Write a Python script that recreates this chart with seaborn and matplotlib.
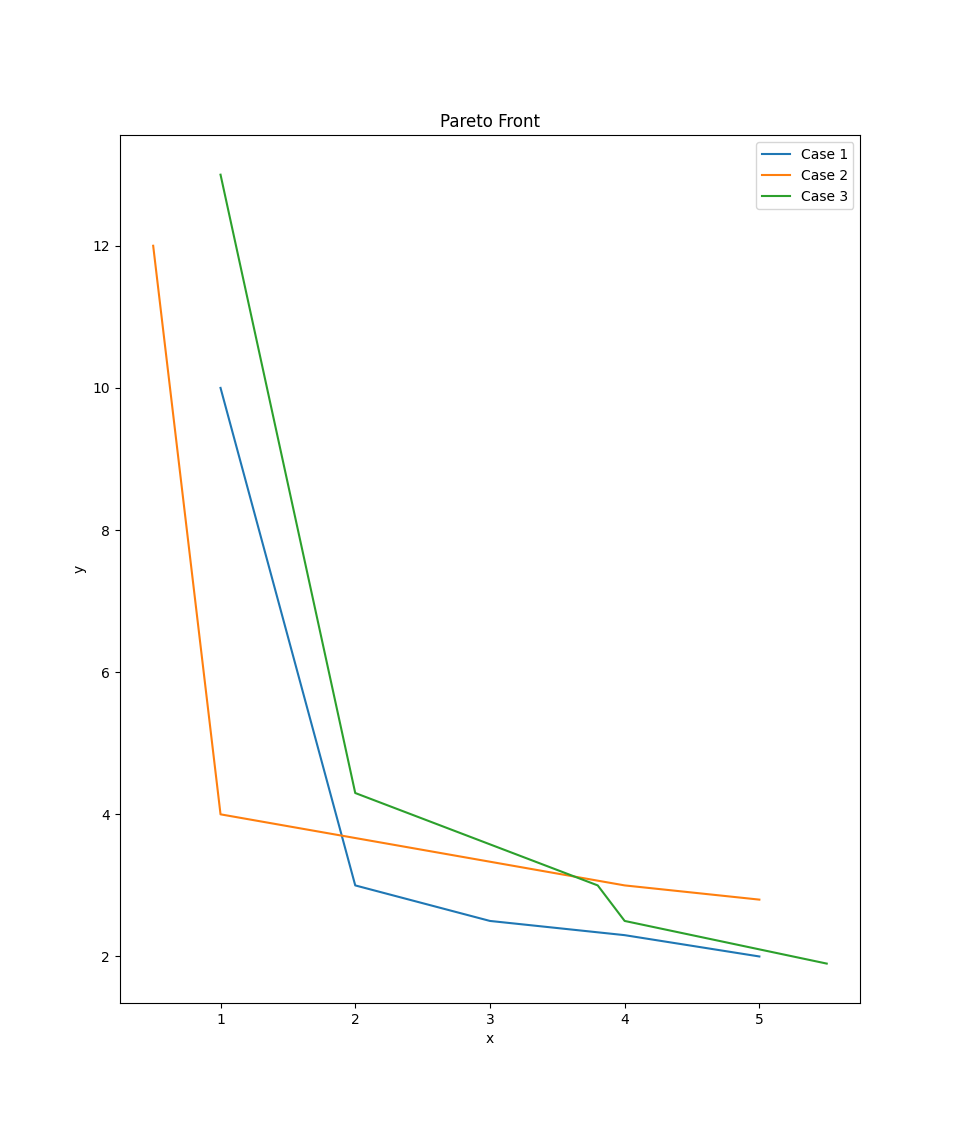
import pandas as pd
import matplotlib
matplotlib.use('Agg')
import matplotlib.pyplot as plt
import seaborn as sns

# Datos de cada caso (frente de Pareto)
case1_x = [1, 2, 3, 4, 5]
case1_y = [10, 3, 2.5, 2.3, 2]

case2_x = [0.5, 1, 4, 5]
case2_y = [12, 4, 3, 2.8]

case3_x = [1, 2, 3.8, 4, 5.5]
case3_y = [13, 4.3, 3, 2.5, 1.9]

labels = ['Case 1', 'Case 2', 'Case 3']

df = pd.concat([
    pd.DataFrame({'x': case1_x, 'y': case1_y, 'case': labels[0]}),
    pd.DataFrame({'x': case2_x, 'y': case2_y, 'case': labels[1]}),
    pd.DataFrame({'x': case3_x, 'y': case3_y, 'case': labels[2]}),
])

fig = plt.figure(figsize=(9.56, 11.27), dpi=100)
ax = fig.add_subplot(111)
sns.lineplot(data=df, x='x', y='y', hue='case', sort=False, estimator=None,
             palette=['#1f77b4', '#ff7f0e', '#2ca02c'], ax=ax)
ax.set_title('Pareto Front')
ax.set_xlabel('x')
ax.set_ylabel('y')
ax.legend(title=None, loc='upper right')
fig.savefig('out.png', dpi=100)
